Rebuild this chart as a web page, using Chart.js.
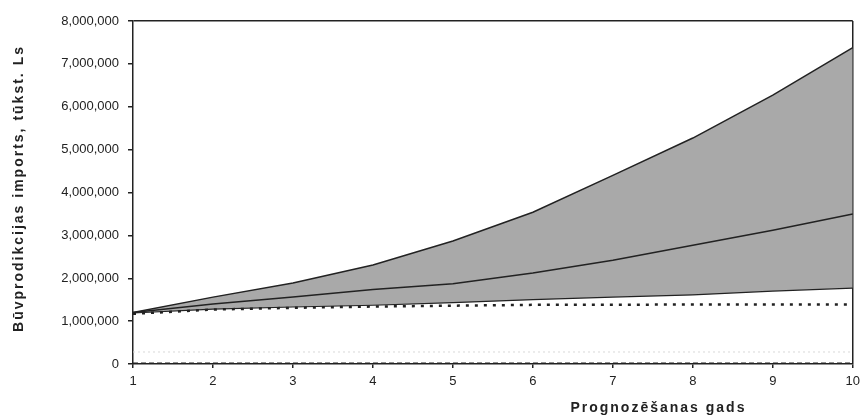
<!DOCTYPE html>
<html>
<head>
<meta charset="utf-8">
<script src="https://cdn.jsdelivr.net/npm/chart.js@4"></script>
<style>
  html, body { margin: 0; padding: 0; background: #fff; }
  #wrap { width: 866px; height: 419px; position: relative; }
</style>
</head>
<body>
<div id="wrap"><canvas id="chart"></canvas></div>
<script>
// prognozes gadi un scenāriji (tūkst. Ls)
const years = ['1', '2', '3', '4', '5', '6', '7', '8', '9', '10'];
const upper = [1200000, 1560000, 1890000, 2310000, 2870000, 3540000, 4400000, 5270000, 6270000, 7380000];
const middle = [1200000, 1400000, 1560000, 1740000, 1870000, 2120000, 2420000, 2770000, 3120000, 3500000];
const lower = [1190000, 1280000, 1330000, 1370000, 1430000, 1500000, 1560000, 1610000, 1700000, 1770000];
const dotted = [1170000, 1270000, 1310000, 1340000, 1360000, 1380000, 1380000, 1390000, 1390000, 1390000];
const faint = [280000, 280000, 280000, 280000, 280000, 280000, 280000, 280000, 280000, 280000];
const zero = [20000, 20000, 20000, 20000, 20000, 20000, 20000, 20000, 20000, 20000];
const yTicks = [0, 1000000, 2000000, 3000000, 4000000, 5000000, 6000000, 7000000, 8000000];

const xTitle = 'Prognozēšanas gads';
const yTitle = 'Būvprodikcijas imports, tūkst. Ls';

const ink = '#222';
const font = '"Liberation Sans", Arial, sans-serif';

// ass nosaukumi ar platāku burtu atstarpi – zīmējam paši
const titlesPlugin = {
  id: 'axisTitles',
  afterDraw(chart) {
    const { ctx, chartArea } = chart;
    ctx.save();
    ctx.font = 'bold 14px ' + font;
    ctx.letterSpacing = '2px';
    ctx.fillStyle = ink;
    ctx.textAlign = 'center';
    ctx.textBaseline = 'middle';
    ctx.fillText(xTitle, chartArea.left + (chartArea.right - chartArea.left) * 0.73, 408);
    ctx.translate(19, (chartArea.top + chartArea.bottom) / 2 - 4);
    ctx.rotate(-Math.PI / 2);
    ctx.fillText(yTitle, 0, 0);
    ctx.restore();
  }
};

new Chart(document.getElementById('chart'), {
  type: 'line',
  data: {
    labels: years,
    datasets: [
      { label: 'upper', data: upper, borderColor: ink, borderWidth: 1.5, fill: 2, backgroundColor: '#a9a9a9', pointRadius: 0 },
      { label: 'middle', data: middle, borderColor: ink, borderWidth: 1.5, fill: false, pointRadius: 0 },
      { label: 'lower', data: lower, borderColor: ink, borderWidth: 1.2, fill: false, pointRadius: 0 },
      { label: 'dotted', data: dotted, borderColor: ink, borderWidth: 2.5, borderDash: [3, 6], fill: false, pointRadius: 0 },
      { label: 'faint', data: faint, borderColor: '#d8d8d8', borderWidth: 1, borderDash: [2, 3], fill: false, pointRadius: 0 },
      { label: 'zero', data: zero, borderColor: ink, borderWidth: 1.5, borderDash: [5, 3], fill: false, pointRadius: 0 }
    ]
  },
  options: {
    responsive: true,
    maintainAspectRatio: false,
    animation: false,
    layout: { padding: { left: 0, right: 9, top: 21, bottom: 0 } },
    plugins: {
      legend: { display: false },
      tooltip: { enabled: false },
      filler: { drawTime: 'beforeDatasetsDraw' }
    },
    scales: {
      x: {
        offset: false,
        grid: {
          color: c => c.index === years.length - 1 ? ink : 'transparent',
          tickColor: ink, tickLength: 4, lineWidth: 1.5
        },
        border: { color: ink, width: 1.5 },
        ticks: { color: ink, padding: 6, maxRotation: 0, font: { family: font, size: 13 } },
        afterFit: s => { s.height = 55; }
      },
      y: {
        min: 0, max: 8000000,
        afterBuildTicks: s => { s.ticks = yTicks.map(v => ({ value: v })); },
        grid: {
          color: c => c.tick && c.tick.value === 8000000 ? ink : 'transparent',
          tickColor: ink, tickLength: 5, lineWidth: 1.5
        },
        border: { color: ink, width: 1.5 },
        ticks: {
          color: ink, padding: 9,
          font: { family: font, size: 13 },
          callback: v => v.toLocaleString('en-US')
        },
        afterFit: s => { s.width = 133; }
      }
    }
  },
  plugins: [titlesPlugin]
});
</script>
</body>
</html>
